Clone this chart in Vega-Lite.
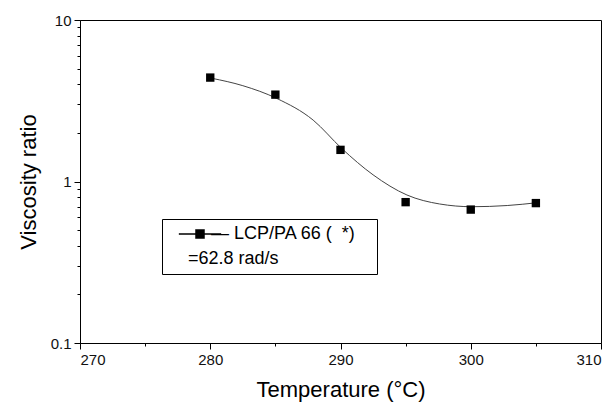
{
  "$schema": "https://vega.github.io/schema/vega-lite/v6.json",
  "autosize": "none",
  "width": 521,
  "height": 323,
  "padding": {"left": 80, "top": 20, "right": 14, "bottom": 67},
  "background": "white",
  "config": {
    "view": {"stroke": "black", "strokeWidth": 1},
    "font": "Liberation Sans",
    "axis": {
      "domainColor": "black",
      "tickColor": "black",
      "labelColor": "#111",
      "labelFont": "Liberation Sans",
      "labelFontSize": 15,
      "titleFont": "Liberation Sans",
      "titleFontWeight": "normal",
      "titleFontSize": 22,
      "titleColor": "black",
      "grid": false
    }
  },
  "datasets": {
    "pts": [
      {"T": 280, "ratio": 4.4, "series": "\u2014\u00a0LCP/PA 66 (\u00a0\u00a0*)\u00a0\u00a0\u00a0\u200b"},
      {"T": 285, "ratio": 3.45, "series": "\u2014\u00a0LCP/PA 66 (\u00a0\u00a0*)\u00a0\u00a0\u00a0\u200b"},
      {"T": 290, "ratio": 1.57, "series": "\u2014\u00a0LCP/PA 66 (\u00a0\u00a0*)\u00a0\u00a0\u00a0\u200b"},
      {"T": 295, "ratio": 0.745, "series": "\u2014\u00a0LCP/PA 66 (\u00a0\u00a0*)\u00a0\u00a0\u00a0\u200b"},
      {"T": 300, "ratio": 0.67, "series": "\u2014\u00a0LCP/PA 66 (\u00a0\u00a0*)\u00a0\u00a0\u00a0\u200b"},
      {"T": 305, "ratio": 0.735, "series": "\u2014\u00a0LCP/PA 66 (\u00a0\u00a0*)\u00a0\u00a0\u00a0\u200b"}
    ],
    "fit": [
      {"T": 280.1, "ratio": 4.36},
      {"T": 282.5, "ratio": 3.92},
      {"T": 285.1, "ratio": 3.27},
      {"T": 287.9, "ratio": 2.4},
      {"T": 290.1, "ratio": 1.6},
      {"T": 292.5, "ratio": 1.1},
      {"T": 295.1, "ratio": 0.825},
      {"T": 297.6, "ratio": 0.726},
      {"T": 300.1, "ratio": 0.698},
      {"T": 302.8, "ratio": 0.71},
      {"T": 305.1, "ratio": 0.739}
    ]
  },
  "layer": [
    {
      "data": {"name": "fit"},
      "mark": {"type": "line", "interpolate": "monotone", "color": "#444", "strokeWidth": 1},
      "encoding": {
        "x": {"field": "T", "type": "quantitative", "scale": {"domain": [270, 310], "nice": false, "zero": false},
          "axis": {
            "values": [270, 275, 280, 285, 290, 295, 300, 305, 310],
            "labelExpr": "datum.value % 10 == 0 ? datum.label : ''",
            "tickSize": {"condition": {"test": "datum.value % 10 == 0", "value": 6}, "value": 3},
            "labelPadding": 3,
            "title": "Temperature (\u00b0C)",
            "titlePadding": 12
          }},
        "y": {"field": "ratio", "type": "quantitative", "scale": {"type": "log", "domain": [0.1, 10], "nice": false},
          "axis": {
            "values": [0.1, 0.2, 0.3, 0.4, 0.5, 0.6, 0.7, 0.8, 0.9, 1, 2, 3, 4, 5, 6, 7, 8, 9, 10],
            "labelExpr": "datum.value == 0.1 ? '0.1' : datum.value == 1 ? '1' : datum.value == 10 ? '10' : ''",
            "tickSize": {"condition": {"test": "datum.value == 0.1 || datum.value == 1 || datum.value == 10", "value": 6}, "value": 3},
            "labelPadding": 3,
            "title": "Viscosity ratio",
            "titlePadding": 10
          }}
      }
    },
    {
      "data": {"name": "pts"},
      "mark": {"type": "point", "shape": "square", "filled": true, "size": 70, "opacity": 1},
      "encoding": {
        "x": {"field": "T", "type": "quantitative"},
        "y": {"field": "ratio", "type": "quantitative"},
        "color": {"field": "series", "type": "nominal", "scale": {"range": ["black"]},
          "legend": {
            "orient": "none",
            "legendX": 82,
            "legendY": 199,
            "title": "\u200b\u00a0\u00a0\u00a0\u00a0=62.8 rad/s",
            "titleOrient": "bottom",
            "titleFontSize": 18,
            "titleFontWeight": "normal",
            "titleColor": "black",
            "titleFont": "Liberation Sans",
            "titlePadding": 7,
            "labelFontSize": 18,
            "labelFont": "Liberation Sans",
            "labelColor": "black",
            "labelOffset": 2,
            "symbolType": "M-4.2 -0.1H4.2V0.1H-4.2ZM-0.9 -0.9H0.9V0.9H-0.9Z",
            "symbolSize": 100,
            "symbolOffset": 23,
            "symbolFillColor": "black",
            "symbolStrokeColor": "black",
            "symbolStrokeWidth": 0.5,
            "symbolOpacity": 1,
            "strokeColor": "black",
            "fillColor": "white",
            "padding": 6
          }}
      }
    }
  ]
}
